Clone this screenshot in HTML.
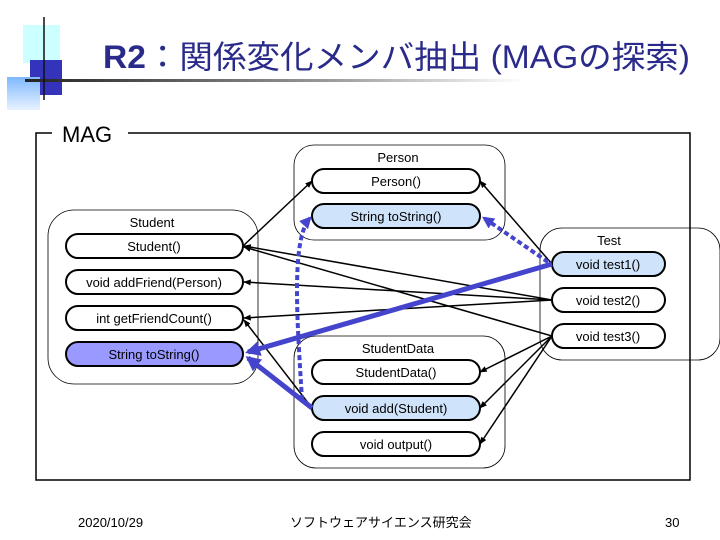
<!DOCTYPE html>
<html><head><meta charset="utf-8"><style>
body{margin:0;width:720px;height:540px;background:#fff;overflow:hidden;font-family:"Liberation Sans","Noto Sans CJK JP",sans-serif}
</style></head><body>
<svg width="720" height="540" viewBox="0 0 720 540" xmlns="http://www.w3.org/2000/svg" style="position:absolute;left:0;top:0">
<defs>
<linearGradient id="hl" x1="0" x2="1"><stop offset="0" stop-color="#222"/><stop offset="0.6" stop-color="#999"/><stop offset="1" stop-color="#fff"/></linearGradient>
<linearGradient id="bq" x1="0" y1="0" x2="0" y2="1"><stop offset="0" stop-color="#7fb8ff"/><stop offset="1" stop-color="#e8f2ff"/></linearGradient>
<marker id="a" viewBox="0 0 10 10" refX="9" refY="5" markerWidth="5" markerHeight="5" orient="auto"><path d="M0,1 L10,5 L0,9z" fill="#000"/></marker>
<marker id="b" viewBox="0 0 10 10" refX="8" refY="5" markerWidth="3" markerHeight="3" orient="auto"><path d="M0,0 L10,5 L0,10z" fill="#4444cc"/></marker>
</defs>
<rect x="23" y="25" width="37" height="38" fill="#ccffff"/>
<rect x="30" y="60" width="32" height="35" fill="#3333bb"/>
<rect x="7" y="77" width="33" height="33" fill="url(#bq)"/>
<rect x="25" y="79" width="500" height="3" fill="url(#hl)"/>
<line x1="44" y1="17" x2="44" y2="100" stroke="#111" stroke-width="1.5"/>
<text x="103" y="68" font-size="32" fill="#2a2a8a" textLength="587" lengthAdjust="spacingAndGlyphs"><tspan font-weight="bold">R2</tspan>：関係変化メンバ抽出 (MAGの探索)</text>

<rect x="36" y="133" width="654" height="347" fill="none" stroke="#000" stroke-width="1.5"/>
<rect x="52" y="120" width="76" height="26" fill="#fff"/>
<text x="62" y="142" font-size="22">MAG</text>

<g fill="none" stroke="#000" stroke-width="0.8">
<rect x="48" y="210" width="210" height="174" rx="26"/>
<rect x="294" y="145" width="211" height="95" rx="20"/>
<rect x="294" y="336" width="211" height="132" rx="22"/>
<rect x="540" y="228" width="180" height="132" rx="22"/>
</g>
<g font-size="13" text-anchor="middle">
<text x="152" y="227">Student</text>
<text x="398" y="162">Person</text>
<text x="398" y="353">StudentData</text>
<text x="609" y="245">Test</text>
</g>
<g stroke="#000" stroke-width="2" font-size="13">
<rect x="66" y="234" width="177" height="24" rx="12" fill="#fff"/>
<rect x="66" y="270" width="177" height="24" rx="12" fill="#fff"/>
<rect x="66" y="306" width="177" height="24" rx="12" fill="#fff"/>
<rect x="66" y="342" width="177" height="24" rx="12" fill="#9999ff"/>
<rect x="312" y="169" width="168" height="24" rx="12" fill="#fff"/>
<rect x="312" y="204" width="168" height="24" rx="12" fill="#cfe4fb"/>
<rect x="312" y="360" width="168" height="24" rx="12" fill="#fff"/>
<rect x="312" y="396" width="168" height="24" rx="12" fill="#cfe4fb"/>
<rect x="312" y="432" width="168" height="24" rx="12" fill="#fff"/>
<rect x="552" y="252" width="113" height="24" rx="12" fill="#cfe4fb"/>
<rect x="552" y="288" width="113" height="24" rx="12" fill="#fff"/>
<rect x="552" y="324" width="113" height="24" rx="12" fill="#fff"/>
</g>
<g font-size="13" text-anchor="middle">
<text x="154" y="251">Student()</text>
<text x="154" y="287">void addFriend(Person)</text>
<text x="154" y="323">int getFriendCount()</text>
<text x="154" y="359">String toString()</text>
<text x="396" y="186">Person()</text>
<text x="396" y="221">String toString()</text>
<text x="396" y="377">StudentData()</text>
<text x="396" y="413">void add(Student)</text>
<text x="396" y="449">void output()</text>
<text x="608" y="269">void test1()</text>
<text x="608" y="305">void test2()</text>
<text x="608" y="341">void test3()</text>
</g>
<g stroke="#000" stroke-width="1.5" fill="none" marker-end="url(#a)">
<line x1="243" y1="246" x2="312" y2="181"/>
<line x1="552" y1="300" x2="244" y2="246"/>
<line x1="552" y1="336" x2="244" y2="247"/>
<line x1="552" y1="300" x2="244" y2="282"/>
<line x1="552" y1="300" x2="244" y2="318"/>
<line x1="312" y1="408" x2="244" y2="320"/>
<line x1="552" y1="264" x2="480" y2="181"/>
<line x1="552" y1="336" x2="480" y2="372"/>
<line x1="552" y1="336" x2="480" y2="408"/>
<line x1="552" y1="336" x2="480" y2="444"/>
</g>
<g stroke="#4444cc" stroke-width="5" fill="none" marker-end="url(#b)">
<line x1="552" y1="264" x2="248" y2="352"/>
<line x1="312" y1="408" x2="248" y2="358"/>
</g>
<g stroke="#4444cc" stroke-width="4" stroke-dasharray="5,3" fill="none" marker-end="url(#b)">
<line x1="548" y1="262" x2="484" y2="218"/>
<path d="M302,400 C298,330 290,240 310,218"/>
</g>
<g font-size="13">
<text x="78" y="527">2020/10/29</text>
<text x="290" y="527">ソフトウェアサイエンス研究会</text>
<text x="665" y="527">30</text>
</g>
</svg>
</body></html>
